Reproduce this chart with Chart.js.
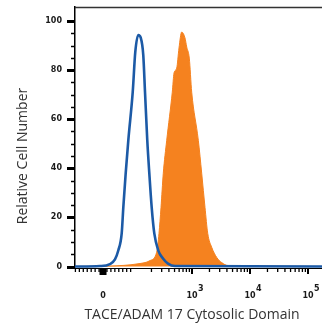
<!DOCTYPE html>
<html>
<head>
<meta charset="utf-8">
<script src="https://cdn.jsdelivr.net/npm/chart.js@4/dist/chart.umd.min.js"></script>
<style>
  html, body { margin: 0; padding: 0; background: #fff; }
  canvas { display: block; }
</style>
</head>
<body>
<canvas id="histChart" width="322" height="326"></canvas>
<script>
// channel in display units (10^3 -> 3, 10^4 -> 4 ...), count in % of max
const isotypeChannel = [0.983, 1.414, 1.586, 1.672, 1.729, 1.788, 1.816, 1.857, 1.902, 1.978, 2.022, 2.074, 2.116, 2.160, 2.190, 2.229, 2.264, 2.305, 2.350, 2.419, 2.500, 2.586, 2.707, 5.241];
const isotypeCount   = [0, 0.2, 1.0, 2.9, 6.5, 13.5, 24.1, 38.0, 51.4, 71.0, 87.3, 94.3, 93.2, 86.1, 71.0, 51.4, 38.0, 24.1, 13.5, 6.5, 3.3, 1.2, 0.2, 0];

const stainedChannel = [0.983, 1.586, 2.069, 2.276, 2.391, 2.431, 2.466, 2.505, 2.564, 2.660, 2.690, 2.736, 2.776, 2.822, 2.879, 2.909, 2.953, 2.995, 3.109, 3.167, 3.224, 3.271, 3.340, 3.426, 3.512, 3.621, 5.241];
const stainedCount   = [0, 0.2, 1.1, 2.4, 5.8, 13.5, 24.1, 38.0, 51.4, 71.0, 78.8, 80.8, 89.0, 95.5, 93.1, 89.4, 84.9, 71.0, 51.4, 38.0, 24.1, 13.5, 7.8, 3.7, 1.6, 0.4, 0];

const xTickValues = [1.466, 3, 4, 5];
const xTickLabels = ['0', '10^3', '10^4', '10^5'];
const yTickValues = [0, 20, 40, 60, 80, 100];

const xAxisTitle = 'TACE/ADAM 17 Cytosolic Domain';
const yAxisTitle = 'Relative Cell Number';

const toPoints = (xs, ys) => xs.map((x, i) => ({ x, y: ys[i] }));

// minor tick positions: linear around zero, log from 10^2 to 10^5
const minorTicks = [];
for (let k = -7; k <= 7; k++) {
    if (k !== 0) minorTicks.push(xTickValues[0] + k * 0.068);
}
[2, 3, 4].forEach(d => {
    for (let m = 2; m <= 9; m++) minorTicks.push(d + Math.log10(m));
});

const tickFont = 'bold 8px "DejaVu Sans"';

const axisDecor = {
    id: 'axisDecor',
    afterDraw(chart) {
        const { ctx, chartArea: a, scales: { x, y } } = chart;
        ctx.save();

        // top frame line
        ctx.strokeStyle = '#333';
        ctx.lineWidth = 1.5;
        ctx.beginPath();
        ctx.moveTo(a.left, a.top + 0.5);
        ctx.lineTo(a.right, a.top + 0.5);
        ctx.stroke();

        // y tick marks
        ctx.strokeStyle = '#000';
        for (let v = 0; v <= 100; v += 5) {
            const py = Math.round(y.getPixelForValue(v)) + 0.5;
            const major = yTickValues.includes(v);
            ctx.lineWidth = major ? 3 : 1.5;
            ctx.beginPath();
            ctx.moveTo(a.left - (major ? 8 : 4), py);
            ctx.lineTo(a.left, py);
            ctx.stroke();
        }

        // x tick marks
        minorTicks.forEach(v => {
            const px = x.getPixelForValue(v);
            if (px < a.left || px > a.right) return;
            ctx.lineWidth = 1.3;
            ctx.beginPath();
            ctx.moveTo(px, a.bottom);
            ctx.lineTo(px, a.bottom + 4);
            ctx.stroke();
        });
        xTickValues.forEach((v, i) => {
            const px = x.getPixelForValue(v);
            ctx.lineWidth = i === 0 ? 7 : 2;
            ctx.beginPath();
            ctx.moveTo(px, a.bottom);
            ctx.lineTo(px, a.bottom + (i === 0 ? 7 : 6));
            ctx.stroke();
        });

        // x tick labels with superscript exponents
        ctx.fillStyle = '#1a1a1a';
        ctx.font = tickFont;
        ctx.textBaseline = 'alphabetic';
        xTickValues.forEach((v, i) => {
            const px = x.getPixelForValue(v);
            const [base, sup] = xTickLabels[i].split('^');
            ctx.textAlign = 'center';
            ctx.fillText(base, px, 298);
            if (sup) {
                const w = ctx.measureText(base).width;
                ctx.textAlign = 'left';
                ctx.fillText(sup, px + w / 2 + 0.5, 291);
            }
        });

        // axis titles
        ctx.fillStyle = '#333';
        ctx.font = '14px "Open Sans"';
        ctx.textAlign = 'center';
        ctx.textBaseline = 'middle';
        ctx.fillText(xAxisTitle, 192, 315);
        ctx.translate(23, 156);
        ctx.rotate(-Math.PI / 2);
        ctx.fillText(yAxisTitle, 0, 0);

        ctx.restore();
    }
};

new Chart(document.getElementById('histChart'), {
    type: 'line',
    data: {
        datasets: [
            {
                label: 'Isotype',
                data: toPoints(isotypeChannel, isotypeCount),
                borderColor: '#1c5aa6',
                borderWidth: 2.6,
                fill: false,
                pointRadius: 0,
                cubicInterpolationMode: 'monotone',
            },
            {
                label: 'TACE/ADAM 17',
                data: toPoints(stainedChannel, stainedCount),
                borderColor: '#f5821f',
                backgroundColor: '#f5821f',
                borderWidth: 1,
                fill: 'origin',
                pointRadius: 0,
                cubicInterpolationMode: 'monotone',
            },
        ],
    },
    options: {
        responsive: false,
        devicePixelRatio: 1,
        animation: false,
        layout: { padding: { top: 7, right: 0, bottom: 0, left: 0 } },
        plugins: { legend: { display: false }, tooltip: { enabled: false } },
        scales: {
            x: {
                type: 'linear',
                min: 0.983,
                max: 5.241,
                grid: { display: false },
                border: { display: true, color: '#000', width: 1 },
                ticks: { display: false },
                afterBuildTicks: s => { s.ticks = xTickValues.map(value => ({ value })); },
                afterFit: s => { s.height = 58; s.paddingLeft = 0; s.paddingRight = 0; },
            },
            y: {
                min: -0.61,
                max: 105.7,
                grid: { display: false, drawTicks: false },
                border: { display: true, color: '#000', width: 1.5 },
                ticks: {
                    color: '#1a1a1a',
                    font: { family: 'DejaVu Sans', size: 8, weight: 'bold' },
                    padding: 13,
                },
                afterBuildTicks: s => { s.ticks = yTickValues.map(value => ({ value })); },
                afterFit: s => { s.width = 75; s.paddingTop = 0; s.paddingBottom = 0; },
            },
        },
    },
    plugins: [axisDecor],
});
</script>
</body>
</html>
